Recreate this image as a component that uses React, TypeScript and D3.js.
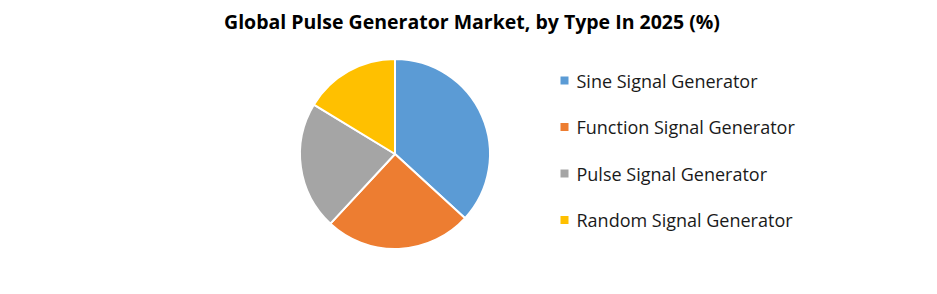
import React from "react";
import * as d3 from "d3";

const categories = [
  "Sine Signal Generator",
  "Function Signal Generator",
  "Pulse Signal Generator",
  "Random Signal Generator",
];
const shares = [36.8, 25.1, 21.8, 16.3];
const colors = ["#5B9BD5", "#ED7D31", "#A5A5A5", "#FFC000"];
const title = "Global Pulse Generator Market, by Type In 2025 (%)";

const W = 937;
const H = 294;

export default function App() {
  const cx = 395;
  const cy = 154;
  const r = 95;
  const pie = d3.pie<number>().sort(null).value((d) => d);
  const arcs = pie(shares);
  const arc = d3.arc<d3.PieArcDatum<number>>().innerRadius(0).outerRadius(r);
  const color = d3.scaleOrdinal<string, string>().domain(categories).range(colors);
  const legendY = d3.scalePoint<string>().domain(categories).range([80.5, 220]);

  return (
    <svg
      width={W}
      height={H}
      style={{ position: "absolute", left: 0, top: 0, background: "#fff" }}
      fontFamily="'Open Sans', sans-serif"
    >
      <rect width={W} height={H} fill="#fff" />
      <text
        x={472}
        y={29}
        textAnchor="middle"
        fontSize={19.5}
        fontWeight="bold"
        fill="#000"
      >
        {title}
      </text>
      <g transform={`translate(${cx},${cy})`}>
        {arcs.map((a, i) => (
          <path
            key={categories[i]}
            d={arc(a) ?? ""}
            fill={color(categories[i])}
            stroke="#fff"
            strokeWidth={2}
            strokeLinejoin="round"
          />
        ))}
      </g>
      {categories.map((c) => (
        <g key={c} transform={`translate(560.5,${legendY(c)})`}>
          <rect x={0} y={-4} width={8} height={8} fill={color(c)} />
          <text x={16} y={0} dominantBaseline="central" fontSize={18} fill="#1a1a1a">
            {c}
          </text>
        </g>
      ))}
    </svg>
  );
}
